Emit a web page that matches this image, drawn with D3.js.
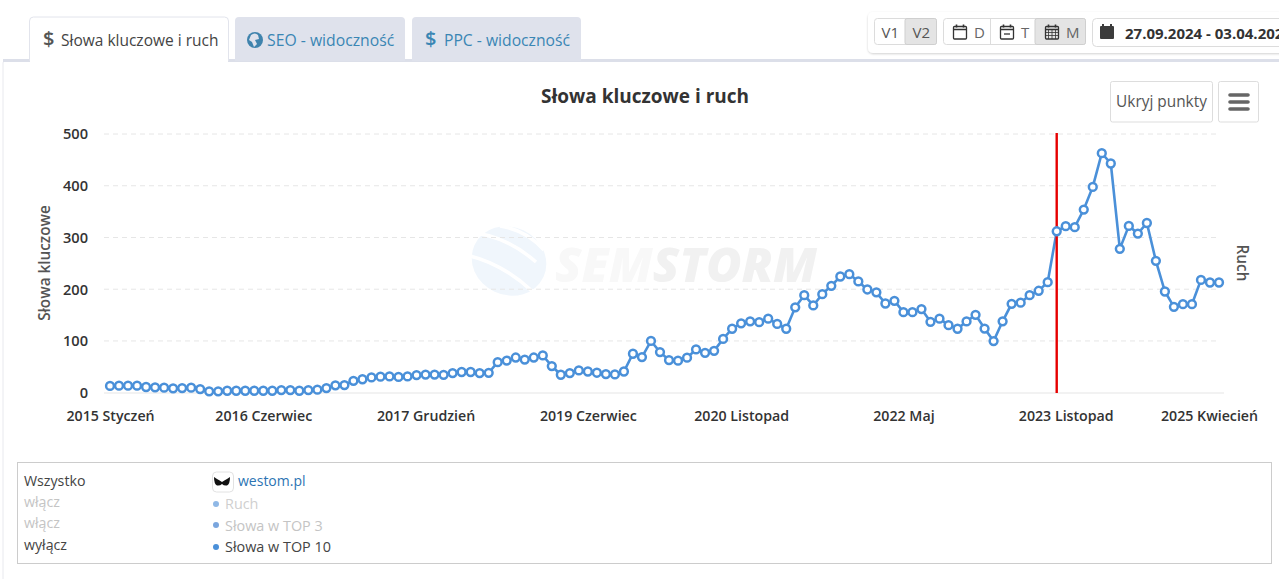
<!DOCTYPE html>
<html><head><meta charset="utf-8">
<style>html,body{margin:0;padding:0;background:#fff;overflow:hidden}svg{display:block}text{font-family:"Open Sans",sans-serif}</style>
<script src="https://cdn.jsdelivr.net/npm/d3@7/dist/d3.min.js"></script></head>
<body><svg id="c" width="1279" height="579"></svg>
<script>
const keywordValues=[13,13.5,13.5,13.5,11,10.3,9.7,8.4,9,9.7,7,2.6,2.6,3.8,3.8,3.8,3.8,3.8,3.8,5,5,3.8,5,5.8,9,14.2,14.8,23,26,29.5,31,31.5,30.5,31.5,34,35,35,34.5,38,40,40,38,38.5,59,62,68,64,68,72,51.5,34.7,38,43,41,38.6,36,35.4,41,75.3,68.8,100,78.5,63,61.8,67.6,83.6,77,81,104,123.6,134,138,136.4,143,133,123.6,165,188.5,168.6,190.5,206.6,224.6,229,215,199.5,194,172.4,177.6,155.7,155.7,161.6,137,143,130.6,123.6,137.7,150.6,124,99.8,138,171.8,174,188.5,197,213.6,312,321.8,320,354,397.7,463,443,278,322.4,307.6,328,254.8,195.6,166,171,171,218,213,213];
const xTickIndex=[0,17,35,53,70,88,106,123];
const xTickLabels=["2015 Styczeń","2016 Czerwiec","2017 Grudzień","2019 Czerwiec","2020 Listopad","2022 Maj","2023 Listopad","2025 Kwiecień"];
const yTicks=[0,100,200,300,400,500];
const markerIndex=105;
const tabLabels=["Słowa kluczowe i ruch","SEO - widoczność","PPC - widoczność"];
const legendToggles=["Wszystko","włącz","włącz","wyłącz"];
const legendSeries=["Ruch","Słowa w TOP 3","Słowa w TOP 10"];

const svg=d3.select("#c");
const x=d3.scaleLinear().domain([0,keywordValues.length-1]).range([110,1219]);
const y=d3.scaleLinear().domain([0,500]).range([392.7,134]);
const T=(s,px,py,o={})=>svg.append("text").text(s).attr("x",px).attr("y",py)
  .attr("font-size",o.size||14).attr("fill",o.fill||"#444").attr("font-weight",o.weight||400)
  .attr("text-anchor",o.anchor||"start");
const R=(a,b,w,h,o={})=>svg.append("rect").attr("x",a).attr("y",b).attr("width",w).attr("height",h)
  .attr("rx",o.rx||0).attr("fill",o.fill||"#fff").attr("stroke",o.stroke||"none").attr("stroke-width",o.sw||1);

// panel
R(3,60,1290,530,{fill:"#fff",stroke:"#e8e9ee",sw:1,rx:3});
R(3,59,1276,3,{fill:"#dcdfe9"});
// tabs
svg.append("path").attr("d","M29.5 61V21q0-4 4-4h191q4 0 4 4v40").attr("fill","#fff").attr("stroke","#e2e4ec");
svg.append("path").attr("d","M235 61V21q0-4 4-4h162q4 0 4 4v40z").attr("fill","#dfe2ec");
svg.append("path").attr("d","M412 61V21q0-4 4-4h161q4 0 4 4v40z").attr("fill","#dfe2ec");
R(30,58,198,5,{fill:"#fff"});
T("$",43,46,{size:20,fill:"#555",weight:600});
T(tabLabels[0],61,46,{size:15.5,fill:"#444"});
svg.append("circle").attr("cx",255).attr("cy",40).attr("r",8).attr("fill","#3f83ad");
svg.append("path").attr("d","M251 35q4-3 7 0l1 4-4 1 2 4-3 3-2-5-3-2z").attr("fill","#dfe2ec");
T(tabLabels[1],267,46,{size:15.75,fill:"#3a86b4"});
T("$",425,46,{size:20,fill:"#3a86b4",weight:600});
T(tabLabels[2],444,46,{size:15.7,fill:"#3a86b4"});

// toolbar
svg.append("defs").html('<filter id="sh" x="-5%" y="-20%" width="110%" height="150%"><feDropShadow dx="0" dy="1" stdDeviation="1.2" flood-color="#000" flood-opacity=".18"/></filter>');
R(868,12,430,41,{fill:"#fff",rx:5}).attr("filter","url(#sh)");
R(874.5,18.5,62,26,{fill:"#fff",stroke:"#dcdcdc",rx:3});
R(905,18.5,31.5,26,{fill:"#e4e4e4",stroke:"#cfcfcf",rx:2});
T("V1",881.5,38,{size:15,fill:"#555"});
T("V2",912.5,38,{size:15,fill:"#555"});
R(943.5,18.5,142,26,{fill:"#fff",stroke:"#dcdcdc",rx:3});
svg.append("line").attr("x1",990.5).attr("x2",990.5).attr("y1",18.5).attr("y2",44.5).attr("stroke","#dcdcdc");
R(1035,18.5,50.5,26,{fill:"#e4e4e4",stroke:"#cfcfcf",rx:2});
const cal=(a,kind)=>{
  R(a+.5,26.5,13,12.5,{fill:"none",stroke:"#333",sw:1.3,rx:1});
  svg.append("path").attr("d",`M${a} 29.5h14M${a+3.5} 24.5v3M${a+10.5} 24.5v3`).attr("stroke","#333").attr("stroke-width",1.6).attr("fill","none");
  if(kind==="t")svg.append("path").attr("d",`M${a+4} 34h6`).attr("stroke","#333").attr("stroke-width",1.3);
  if(kind==="m")svg.append("path").attr("d",`M${a} 32.5h14M${a} 35.5h14M${a+3.5} 29v10M${a+7} 29v10M${a+10.5} 29v10`).attr("stroke","#333").attr("stroke-width",.8);
};
cal(953,"d");cal(1000,"t");cal(1045,"m");
T("D",974,38,{size:15,fill:"#666"});
T("T",1021,38,{size:15,fill:"#666"});
T("M",1066,38,{size:15,fill:"#666"});
R(1092.5,18.5,200,28,{fill:"#fff",stroke:"#dcdcdc",rx:4});
R(1100,26,14,13,{fill:"#3c3c3c",rx:1});
svg.append("path").attr("d","M1103 24v3M1111 24v3").attr("stroke","#3c3c3c").attr("stroke-width",2);
T("27.09.2024 - 03.04.2025",1125,39,{size:15,fill:"#333",weight:700});

// chart title and buttons
T(tabLabels[0],645,103,{size:19,fill:"#333",weight:700,anchor:"middle"});
R(1110.5,81.5,102,40.5,{fill:"#fff",stroke:"#ddd",rx:2});
T("Ukryj punkty",1161.5,107,{size:15.4,fill:"#555",anchor:"middle"});
R(1218.5,81.5,40,40.5,{fill:"#fff",stroke:"#ddd",rx:2});
svg.append("path").attr("d","M1230 95h18M1230 102h18M1230 109h18").attr("stroke","#666").attr("stroke-width",3.6).attr("stroke-linecap","round");

// watermark
const wm=svg.append("g");
wm.append("ellipse").attr("cx",509).attr("cy",261).attr("rx",38).attr("ry",34).attr("transform","rotate(25 509 261)").attr("fill","#f0f6fc");
wm.append("path").attr("d","M466 232q38 2 70 30M466 255q36 8 66 36M500 226q26 4 44 24").attr("fill","none").attr("stroke","#fff").attr("stroke-width",3.5);
const wt=wm.append("text").attr("x",555).attr("y",282).attr("font-size",48).attr("font-weight",800).attr("font-style","italic").attr("textLength",262).attr("lengthAdjust","spacingAndGlyphs");
wt.append("tspan").text("SEM").attr("fill","#f8f8f8");
wt.append("tspan").text("STORM").attr("fill","#f1f1f1");

// grid
svg.append("g").selectAll("line").data(yTicks.filter(d=>d>0)).join("line")
  .attr("x1",104).attr("x2",1220).attr("y1",d=>y(d)).attr("y2",d=>y(d))
  .attr("stroke","#e6e6e6").attr("stroke-dasharray","5 4");
svg.append("line").attr("x1",104).attr("x2",1224).attr("y1",393).attr("y2",393).attr("stroke","#e6e6e6").attr("stroke-width",1.2);

// axes
const yAxis=d3.axisLeft(y).tickValues(yTicks).tickSize(0).tickPadding(0);
const gy=svg.append("g").attr("transform","translate(88,0)").call(yAxis);
gy.select(".domain").remove();
gy.selectAll("text").attr("font-size",14.6).attr("font-weight",600).attr("fill","#333").style("font-family",'"Open Sans",sans-serif').attr("dy",".33em");
const xAxis=d3.axisBottom(x).tickValues(xTickIndex).tickSize(0).tickPadding(0).tickFormat(d=>xTickLabels[xTickIndex.indexOf(d)]);
const gx=svg.append("g").attr("transform","translate(0,411)").call(xAxis);
gx.select(".domain").remove();
gx.selectAll("text").attr("font-size",14.2).attr("font-weight",600).attr("fill","#333").style("font-family",'"Open Sans",sans-serif').attr("dy",".7em");
gx.selectAll("g.tick").filter(d=>d===123).select("text").attr("dx",-10);
svg.append("text").text("Słowa kluczowe").attr("transform","translate(50,263) rotate(-90)").attr("text-anchor","middle").attr("font-size",15.3).attr("font-weight",600).attr("fill","#555");
svg.append("text").text("Ruch").attr("transform","translate(1237,263) rotate(90)").attr("text-anchor","middle").attr("font-size",15.3).attr("font-weight",600).attr("fill","#555");

// series
const line=d3.line().x((d,i)=>x(i)).y(d=>y(d));
svg.append("path").datum(keywordValues).attr("d",line).attr("fill","none").attr("stroke","#4a90d9").attr("stroke-width",2.6);
svg.append("line").attr("x1",x(markerIndex)).attr("x2",x(markerIndex)).attr("y1",133).attr("y2",393).attr("stroke","#e60000").attr("stroke-width",2.4);
svg.append("g").selectAll("circle").data(keywordValues).join("circle")
  .attr("cx",(d,i)=>x(i)).attr("cy",d=>y(d)).attr("r",3.9).attr("fill","#fff").attr("stroke","#4a90d9").attr("stroke-width",2.5);

// legend
R(17.5,462.5,1254,101,{fill:"#fff",stroke:"#ccc"});
const ly=[486,507,528,550],lc=["#444","#c4c4c4","#c4c4c4","#444"];
legendToggles.forEach((s,i)=>T(s,24,ly[i],{size:14.2,fill:lc[i]}));
R(212.5,472,21,20,{fill:"#fff",stroke:"#e2e2e2",rx:4});
svg.append("path").attr("d","M214 477l3 2q2 1 5 3 3-2 5-3l3-2q0 7-3 8.5-3 .5-5-1.5-2 2-5 1.5-3-1.5-3-8.5z").attr("fill","#111");
T("westom.pl",238,486,{size:14,fill:"#2c74b3"});
const sy=[509,531,552],sc=["#cfcfcf","#c4c4c4","#444"],dc=["#8fb8e6","#7aa6de","#4a90d9"],dy=[504,525,547];
legendSeries.forEach((s,i)=>{
  svg.append("circle").attr("cx",216).attr("cy",dy[i]).attr("r",3).attr("fill",dc[i]);
  T(s,225,sy[i],{size:14.4,fill:sc[i]});
});
</script></body></html>
